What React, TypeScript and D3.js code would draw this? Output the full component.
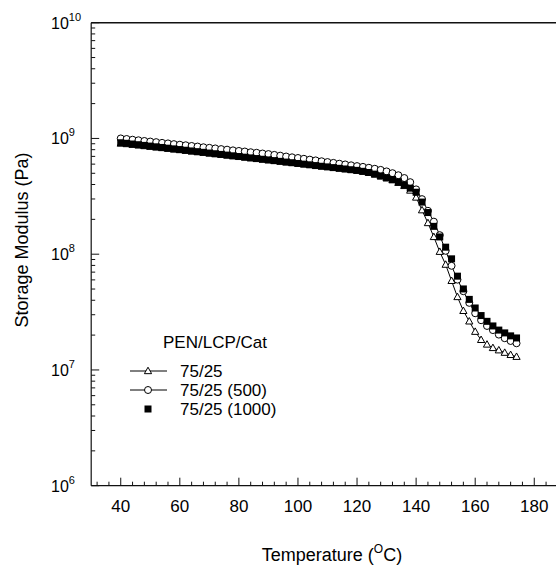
import React from "react";
import * as d3 from "d3";

const temps = [
  40, 42, 44, 46, 48, 50, 52, 54, 56, 58, 60, 62, 64, 66, 68, 70, 72, 74, 76, 78,
  80, 82, 84, 86, 88, 90, 92, 94, 96, 98, 100, 102, 104, 106, 108, 110, 112, 114, 116, 118,
  120, 122, 124, 126, 128, 130, 132, 134, 136, 138, 140, 142, 144, 146, 148, 150, 152, 154, 156, 158,
  160, 162, 164, 166, 168, 170, 172, 174,
];

// 75/25 (triangles, with line)
const s7525 = [
  9.05e8, 8.95e8, 8.83e8, 8.72e8, 8.6e8, 8.49e8, 8.38e8, 8.27e8, 8.16e8, 8.05e8,
  7.95e8, 7.84e8, 7.74e8, 7.64e8, 7.54e8, 7.44e8, 7.34e8, 7.24e8, 7.15e8, 7.05e8,
  6.96e8, 6.87e8, 6.78e8, 6.69e8, 6.6e8, 6.51e8, 6.42e8, 6.34e8, 6.25e8, 6.17e8,
  6.08e8, 6.0e8, 5.92e8, 5.84e8, 5.76e8, 5.68e8, 5.6e8, 5.52e8, 5.44e8, 5.36e8,
  5.27e8, 5.17e8, 5.05e8, 4.9e8, 4.72e8, 4.54e8, 4.36e8, 4.14e8,
  3.89e8, 3.55e8, 3.09e8, 2.4e8, 1.86e8, 1.41e8, 1.05e8, 8.13e7, 5.89e7, 4.27e7,
  3.24e7, 2.63e7, 2.14e7, 1.82e7, 1.66e7, 1.55e7, 1.48e7, 1.41e7, 1.35e7, 1.3e7,
];

// 75/25 (500) (open circles, with line)
const s500 = [
  1.0e9, 9.89e8, 9.75e8, 9.64e8, 9.51e8, 9.4e8, 9.29e8, 9.16e8, 9.06e8, 8.93e8,
  8.83e8, 8.73e8, 8.61e8, 8.51e8, 8.39e8, 8.3e8, 8.2e8, 8.09e8, 8.0e8, 7.89e8,
  7.8e8, 7.71e8, 7.6e8, 7.52e8, 7.41e8, 7.33e8, 7.21e8, 7.1e8, 6.98e8, 6.87e8,
  6.78e8, 6.67e8, 6.56e8, 6.46e8, 6.35e8, 6.25e8, 6.15e8, 6.05e8, 5.96e8, 5.86e8,
  5.77e8, 5.68e8, 5.58e8, 5.47e8, 5.35e8, 5.19e8, 5.01e8, 4.81e8,
  4.55e8, 4.19e8, 3.63e8, 2.99e8, 2.37e8, 1.91e8, 1.46e8, 1.07e8, 7.94e7, 6.03e7,
  4.79e7, 3.8e7, 3.09e7, 2.69e7, 2.4e7, 2.21e7, 2.02e7, 1.88e7, 1.78e7, 1.7e7,
];

// 75/25 (1000) (filled squares, no line)
const s1000 = [
  9.18e8, 9.08e8, 8.95e8, 8.83e8, 8.71e8, 8.59e8, 8.47e8, 8.36e8, 8.24e8, 8.13e8,
  8.02e8, 7.91e8, 7.8e8, 7.69e8, 7.59e8, 7.48e8, 7.38e8, 7.28e8, 7.18e8, 7.08e8,
  6.98e8, 6.89e8, 6.79e8, 6.7e8, 6.61e8, 6.52e8, 6.43e8, 6.34e8, 6.25e8, 6.17e8,
  6.08e8, 6.0e8, 5.92e8, 5.83e8, 5.75e8, 5.68e8, 5.6e8, 5.52e8, 5.45e8, 5.37e8,
  5.3e8, 5.2e8, 5.08e8, 4.92e8, 4.74e8, 4.57e8, 4.42e8, 4.22e8,
  3.98e8, 3.72e8, 3.43e8, 2.82e8, 2.29e8, 1.74e8, 1.41e8, 1.15e8, 9.12e7, 6.46e7,
  5.01e7, 4.07e7, 3.43e7, 2.95e7, 2.63e7, 2.4e7, 2.21e7, 2.09e7, 1.97e7, 1.89e7,
];

const xMajorTicks = [40, 60, 80, 100, 120, 140, 160, 180];
const yDecades = [6, 7, 8, 9, 10];
const legendTitle = "PEN/LCP/Cat";
const legendLabels = ["75/25", "75/25 (500)", "75/25 (1000)"];

const FONT = "'Liberation Sans', Arial, Helvetica, sans-serif";

export default function App() {
  const W = 556;
  const H = 568;
  const x = d3.scaleLinear().domain([30, 190]).range([91.2, 563.8]);
  const y = d3.scaleLog().domain([1e6, 1e10]).range([485.7, 22.7]);
  const x0 = x(30);
  const yb = y(1e6);
  const yt = y(1e10);

  const xMinor: number[] = [];
  for (let t = 32; t <= 188; t += 4) if (!xMajorTicks.includes(t)) xMinor.push(t);
  const yMinor: number[] = [];
  for (let e = 6; e < 10; e++) for (let m = 2; m <= 9; m++) yMinor.push(m * Math.pow(10, e));

  const line = d3
    .line<number>()
    .x((_, i) => x(temps[i]))
    .y((d) => y(d));

  const tri = (cx: number, cy: number, s = 3.8) =>
    `M${cx},${cy - s}L${cx + s * 0.95},${cy + s * 0.7}L${cx - s * 0.95},${cy + s * 0.7}Z`;

  const lx1 = 130,
    lx2 = 167,
    lmx = 148,
    ltx = 180;
  const rowY = [371, 390, 409];

  return (
    <svg
      width={W}
      height={H}
      style={{ position: "absolute", left: 0, top: 0, background: "#fff" }}
      fontFamily={FONT}
    >
      <rect x={0} y={0} width={W} height={H} fill="#fff" />
      {/* frame */}
      <line x1={x0} y1={yt} x2={W} y2={yt} stroke="#111" strokeWidth={1.4} />
      <line x1={x0} y1={yt} x2={x0} y2={yb} stroke="#111" strokeWidth={1.2} />
      <line x1={x0} y1={yb} x2={W} y2={yb} stroke="#111" strokeWidth={1.2} />

      {/* x ticks */}
      {xMajorTicks.map((t) => (
        <g key={"xm" + t}>
          <line x1={x(t)} x2={x(t)} y1={yb} y2={yb - 8} stroke="#111" strokeWidth={1} />
          <text x={x(t)} y={yb + 26} textAnchor="middle" fontSize={17} fill="#000">
            {t}
          </text>
        </g>
      ))}
      {xMinor.map((t) => (
        <line key={"xn" + t} x1={x(t)} x2={x(t)} y1={yb} y2={yb - 4} stroke="#111" strokeWidth={1} />
      ))}

      {/* y ticks */}
      {yDecades.map((e) => {
        const yy = y(Math.pow(10, e));
        return (
          <g key={"ym" + e}>
            <line x1={x0} x2={x0 + 8} y1={yy} y2={yy} stroke="#111" strokeWidth={1} />
            <text x={51} y={yy + 6} fontSize={16} fill="#000">
              10
              <tspan fontSize={11} dy={-8}>
                {e}
              </tspan>
            </text>
          </g>
        );
      })}
      {yMinor.map((v, i) => (
        <line key={"yn" + i} x1={x0} x2={x0 + 4} y1={y(v)} y2={y(v)} stroke="#111" strokeWidth={1} />
      ))}

      {/* axis titles */}
      <text x={332} y={561} textAnchor="middle" fontSize={18} fill="#000">
        Temperature (
        <tspan fontSize={12} dy={-8}>
          O
        </tspan>
        <tspan dy={8}>C)</tspan>
      </text>
      <text
        transform={`translate(28,240) rotate(-90)`}
        textAnchor="middle"
        fontSize={18}
        fill="#000"
      >
        Storage Modulus (Pa)
      </text>

      {/* data: triangles */}
      <path d={line(s7525) || ""} fill="none" stroke="#000" strokeWidth={1} />
      {s7525.map((v, i) => (
        <path key={"t" + i} d={tri(x(temps[i]), y(v))} fill="#fff" stroke="#000" strokeWidth={1} />
      ))}
      {/* circles */}
      <path d={line(s500) || ""} fill="none" stroke="#000" strokeWidth={1} />
      {s500.map((v, i) => (
        <circle key={"c" + i} cx={x(temps[i])} cy={y(v)} r={3.5} fill="#fff" stroke="#000" strokeWidth={1} />
      ))}
      {/* squares */}
      {s1000.map((v, i) => (
        <rect key={"s" + i} x={x(temps[i]) - 3.5} y={y(v) - 3.5} width={7} height={7} fill="#000" />
      ))}

      {/* legend */}
      <text x={163} y={348} fontSize={17} fill="#000">
        {legendTitle}
      </text>
      <line x1={lx1} x2={lx2} y1={rowY[0]} y2={rowY[0]} stroke="#000" strokeWidth={1} />
      <path d={tri(lmx, rowY[0])} fill="#fff" stroke="#000" strokeWidth={1} />
      <line x1={lx1} x2={lx2} y1={rowY[1]} y2={rowY[1]} stroke="#000" strokeWidth={1} />
      <circle cx={lmx} cy={rowY[1]} r={3.5} fill="#fff" stroke="#000" strokeWidth={1} />
      <rect x={lmx - 3.5} y={rowY[2] - 3.5} width={7} height={7} fill="#000" />
      {legendLabels.map((l, i) => (
        <text key={l} x={ltx} y={rowY[i] + 6} fontSize={17} fill="#000">
          {l}
        </text>
      ))}
    </svg>
  );
}
